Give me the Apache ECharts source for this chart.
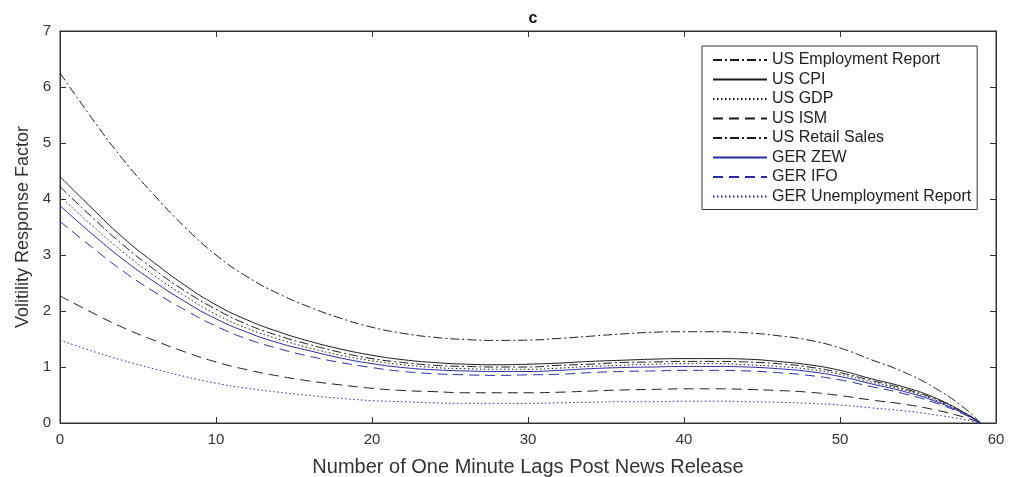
<!DOCTYPE html>
<html>
<head>
<meta charset="utf-8">
<script src="https://cdn.jsdelivr.net/npm/echarts@6/dist/echarts.min.js"></script>
<style>
  html, body { margin: 0; padding: 0; background: #fff; }
  #chart { width: 1014px; height: 477px; }
</style>
</head>
<body>
<div id="chart"></div>
<script>
// Minutes after the release (sampled every two lags, last point at 59)
const lags = [0, 2, 4, 6, 8, 10, 12, 14, 16, 18, 20, 22, 24, 26, 28, 30, 32, 34, 36, 38, 40, 42, 44, 46, 48, 50, 52, 54, 56, 58, 59];

// Volatility response factor per announcement
const usEmployment = [6.25, 5.46, 4.72, 4.08, 3.50, 3.00, 2.61, 2.31, 2.07, 1.87, 1.71, 1.60, 1.53, 1.49, 1.475, 1.48, 1.51, 1.55, 1.59, 1.62, 1.63, 1.63, 1.61, 1.56, 1.48, 1.34, 1.13, 0.92, 0.64, 0.26, 0];
const usCpi        = [4.40, 3.85, 3.32, 2.87, 2.46, 2.11, 1.84, 1.63, 1.46, 1.32, 1.21, 1.13, 1.08, 1.05, 1.04, 1.05, 1.07, 1.10, 1.12, 1.14, 1.15, 1.15, 1.14, 1.10, 1.04, 0.94, 0.79, 0.65, 0.46, 0.18, 0];
const usGdp        = [4.05, 3.54, 3.06, 2.64, 2.27, 1.94, 1.69, 1.50, 1.34, 1.21, 1.11, 1.04, 0.99, 0.97, 0.96, 0.96, 0.98, 1.01, 1.03, 1.05, 1.06, 1.06, 1.04, 1.01, 0.96, 0.87, 0.73, 0.60, 0.42, 0.17, 0];
const usIsm        = [2.27, 1.98, 1.71, 1.48, 1.27, 1.09, 0.95, 0.84, 0.75, 0.68, 0.62, 0.58, 0.56, 0.54, 0.54, 0.54, 0.55, 0.57, 0.59, 0.60, 0.61, 0.61, 0.60, 0.58, 0.55, 0.49, 0.41, 0.34, 0.24, 0.10, 0];
const usRetail     = [4.22, 3.69, 3.19, 2.75, 2.36, 2.03, 1.76, 1.56, 1.40, 1.26, 1.15, 1.08, 1.03, 1.01, 1.00, 1.00, 1.03, 1.05, 1.08, 1.09, 1.10, 1.10, 1.09, 1.06, 1.00, 0.90, 0.76, 0.62, 0.44, 0.18, 0];
const gerZew       = [3.88, 3.39, 2.93, 2.53, 2.17, 1.86, 1.62, 1.43, 1.29, 1.16, 1.06, 0.99, 0.95, 0.93, 0.92, 0.92, 0.94, 0.97, 0.99, 1.00, 1.01, 1.01, 1.00, 0.97, 0.92, 0.83, 0.70, 0.57, 0.40, 0.16, 0];
const gerIfo       = [3.60, 3.15, 2.72, 2.35, 2.02, 1.73, 1.50, 1.33, 1.19, 1.08, 0.99, 0.92, 0.88, 0.86, 0.85, 0.86, 0.87, 0.90, 0.92, 0.93, 0.94, 0.94, 0.93, 0.90, 0.85, 0.77, 0.65, 0.53, 0.37, 0.15, 0];
const gerUnemp     = [1.48, 1.29, 1.12, 0.97, 0.83, 0.71, 0.62, 0.55, 0.49, 0.44, 0.40, 0.38, 0.36, 0.35, 0.35, 0.35, 0.36, 0.37, 0.38, 0.38, 0.39, 0.39, 0.38, 0.37, 0.35, 0.32, 0.27, 0.22, 0.15, 0.06, 0];

const xTicks = [0, 10, 20, 30, 40, 50, 60];
const yTicks = [0, 1, 2, 3, 4, 5, 6, 7];

const BLACK = '#1a1a1a';
const BLUE = '#2a2aa6';
const DASH_DOT = [9, 3, 2, 3];
const DASHED = [10, 6];
const DOTTED = [1.5, 2.5];
const FONT = 'Liberation Sans, Arial, sans-serif';

const seriesDefs = [
  { name: 'US Employment Report', values: usEmployment, color: BLACK, dash: DASH_DOT },
  { name: 'US CPI', values: usCpi, color: BLACK, dash: 'solid' },
  { name: 'US GDP', values: usGdp, color: BLACK, dash: DOTTED },
  { name: 'US ISM', values: usIsm, color: BLACK, dash: DASHED },
  { name: 'US Retail Sales', values: usRetail, color: BLACK, dash: DASH_DOT },
  { name: 'GER ZEW', values: gerZew, color: BLUE, dash: 'solid' },
  { name: 'GER IFO', values: gerIfo, color: BLUE, dash: DASHED },
  { name: 'GER Unemployment Report', values: gerUnemp, color: BLUE, dash: DOTTED }
];

// Axis frame: box with ticks pointing inward on all four sides
function frameAxis(extra) {
  return Object.assign({
    type: 'value',
    axisLine: { show: true, onZero: false, lineStyle: { color: '#333', width: 1 } },
    axisTick: { show: true, inside: true, length: 6, lineStyle: { color: '#333', width: 1 } },
    splitLine: { show: false }
  }, extra);
}

const tickLabel = { color: '#333', fontSize: 15, fontFamily: FONT };

const chart = echarts.init(document.getElementById('chart'), null, { renderer: 'canvas' });

chart.setOption({
  animation: false,
  backgroundColor: '#fff',
  title: {
    text: 'c',
    left: 528,
    top: 6,
    textAlign: 'center',
    textStyle: { fontSize: 16, fontWeight: 'bold', color: '#111', fontFamily: FONT }
  },
  grid: {
    left: 60, right: 18, top: 31, bottom: 54,
    containLabel: false,
    outerBoundsMode: 'none',
    show: true, borderColor: '#333', borderWidth: 1, backgroundColor: 'transparent'
  },
  legend: {
    orient: 'vertical',
    left: 702,
    top: 46,
    padding: [6, 6, 5, 10],
    itemWidth: 54,
    itemHeight: 14,
    itemGap: 3.5,
    backgroundColor: '#fff',
    borderColor: '#333',
    borderWidth: 1,
    borderRadius: 0,
    // line samples only, no marker in the middle
    itemStyle: { opacity: 0 },
    textStyle: { fontSize: 16, lineHeight: 16, color: '#222', fontFamily: FONT },
    data: seriesDefs.map(d => d.name)
  },
  xAxis: [
    frameAxis({
      min: xTicks[0], max: xTicks[xTicks.length - 1], interval: 10, position: 'bottom',
      name: 'Number of One Minute Lags Post News Release',
      nameLocation: 'middle', nameGap: 34,
      nameTextStyle: { color: '#333', fontSize: 20, fontFamily: FONT },
      axisLabel: Object.assign({ margin: 9 }, tickLabel)
    }),
    frameAxis({
      min: xTicks[0], max: xTicks[xTicks.length - 1], interval: 10, position: 'top',
      axisLabel: { show: false }
    })
  ],
  yAxis: [
    frameAxis({
      min: yTicks[0], max: yTicks[yTicks.length - 1], interval: 1, position: 'left',
      name: 'Volitility Response Factor',
      nameLocation: 'middle', nameGap: 27, nameRotate: 90,
      nameTextStyle: { color: '#333', fontSize: 18, fontFamily: FONT },
      axisLabel: Object.assign({ margin: 9 }, tickLabel)
    }),
    frameAxis({
      min: yTicks[0], max: yTicks[yTicks.length - 1], interval: 1, position: 'right',
      axisLabel: { show: false }
    })
  ],
  series: seriesDefs.map(d => ({
    name: d.name,
    type: 'line',
    xAxisIndex: 0,
    yAxisIndex: 0,
    data: lags.map((x, i) => [x, d.values[i]]),
    smooth: true,
    symbol: 'none',
    color: d.color,
    lineStyle: { color: d.color, width: 1, type: d.dash }
  }))
});
</script>
</body>
</html>
